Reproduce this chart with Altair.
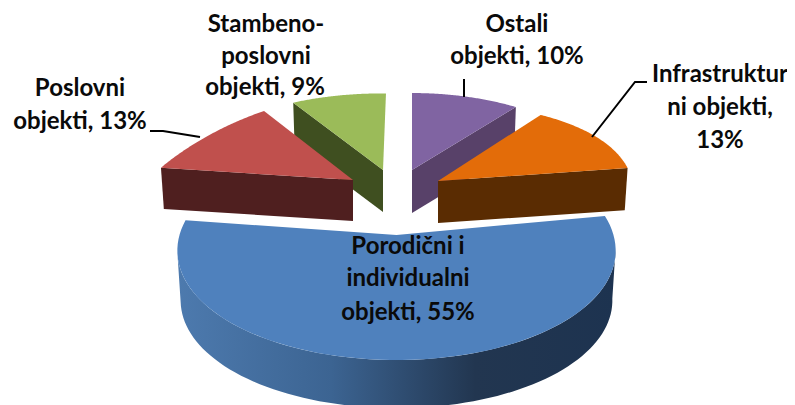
import math
import altair as alt

# --- chart values ---
categories = ["Ostali objekti", "Infrastrukturni objekti", "Porodični i individualni objekti",
              "Poslovni objekti", "Stambeno-poslovni objekti"]
shares = [10, 13, 55, 13, 9]
top_colors = ["#8064a2", "#e36c09", "#4f81bd", "#c0504d", "#9bbb59"]
wall_colors = ["#584169", "#5a2c02", None, "#4f1f1f", "#3f4f20"]

label_lines = ["Stambeno-", "poslovni", "objekti, 9%",
               "Poslovni", "objekti, 13%",
               "Ostali", "objekti, 10%",
               "Infrastruktur", "ni objekti,", "13%",
               "Porodični i", "individualni", "objekti, 55%"]
label_x = [266, 266, 265, 80, 80, 517, 517, 720, 720, 720, 408, 408, 408]
label_y = [25, 57, 88, 89, 122, 25, 57, 75, 108, 141, 247, 279, 313]

leaders = [
    [(150, 131), (163, 131), (200, 137)],
    [(464, 79), (464, 97)],
    [(647, 82), (635, 82), (592, 137)],
]

# --- perspective view of each exploded slice ---
# apex x, apex y, rx, ry, kx, ky, rotation, depth
views = {
    0: (412, 170, 191, 81.6, 0.10, 0.06, 0.0, 43),
    1: (438, 181, 194.5, 101, 0.124, 0.30, -0.5, 42),
    2: (396.5, 235, 217, 110, 0.14, 0.12, -3.0, 50),
    3: (353, 180, 205, 84, 0.384, 0.0, -2.4, 41),
    4: (383, 170, 187, 95, 0.10, 0.24, 1.0, 42),
}
SHRINK = 0.985

cum = [0]
for s in shares:
    cum.append(cum[-1] + s)
angles = [(cum[i] * 3.6, cum[i + 1] * 3.6) for i in range(len(shares))]


def rim(i, a, lower=False):
    ax, ay, rx, ry, kx, ky, rot, depth = views[i]
    t = math.radians(a + rot)
    f = SHRINK if lower else 1.0
    dy = depth if lower else 0
    return [ax + f * rx * math.sin(t) / (1 + kx * math.cos(t)),
            ay + dy - f * ry * math.cos(t) / (1 + ky * math.cos(t))]


def apex(i, lower=False):
    ax, ay, *_, depth = views[i]
    return [ax, ay + (depth if lower else 0)]


def feature(ring):
    ring = ring + [ring[0]]
    return {"type": "Feature", "properties": {}, "geometry": {"type": "Polygon", "coordinates": [ring]}}


def arc(i, a0, a1, lower=False, n=80):
    return [rim(i, a0 + (a1 - a0) * j / n, lower) for j in range(n + 1)]


PROJ = dict(type="identity", scale=1, translate=[-8, -8])


def shape(ring, fill):
    return alt.Chart(alt.Data(values=[feature(ring)])).mark_geoshape(
        fill=fill, strokeWidth=0, clip=True).project(**PROJ)


def top_face(i):
    a0, a1 = angles[i]
    return shape([apex(i)] + arc(i, a0, a1), top_colors[i])


def radial_wall(i, a, color):
    return shape([apex(i), rim(i, a), rim(i, a, True), apex(i, True)], color)


blue_gradient = alt.Gradient(
    gradient="linear", x1=0, x2=1, y1=0, y2=0,
    stops=[alt.GradientStop(offset=0, color="#4d7aae"),
           alt.GradientStop(offset=0.35, color="#3c6492"),
           alt.GradientStop(offset=0.68, color="#223650"),
           alt.GradientStop(offset=1, color="#1d3350")],
)

a0, a1 = 100, 262
blue_wall = shape(arc(2, a0, a1) + arc(2, a1, a0, True), blue_gradient)

layers = [
    radial_wall(4, angles[4][0], wall_colors[4]), top_face(4),
    radial_wall(0, angles[0][1], wall_colors[0]), top_face(0),
    radial_wall(3, angles[3][0], wall_colors[3]), top_face(3),
    radial_wall(1, angles[1][1], wall_colors[1]), top_face(1),
    blue_wall, top_face(2),
]

for k, pts in enumerate(leaders):
    rows = [{"lon": p[0], "lat": p[1], "o": j} for j, p in enumerate(pts)]
    layers.append(
        alt.Chart(alt.Data(values=rows)).mark_line(color="#000000", strokeWidth=2).encode(
            longitude="lon:Q", latitude="lat:Q", order="o:Q").project(**PROJ))

label_rows = [{"t": t, "lon": x, "lat": y} for t, x, y in zip(label_lines, label_x, label_y)]
layers.append(
    alt.Chart(alt.Data(values=label_rows)).mark_text(
        font="Lato", fontSize=24, fontWeight="bold", color="#0a0a0a",
        align="center", baseline="middle").encode(
        longitude="lon:Q", latitude="lat:Q", text="t:N").project(**PROJ))

chart = alt.layer(*layers).properties(
    width=779, height=397, padding=0,
    autosize=alt.AutoSizeParams(type="none"),
    background="#ffffff",
).configure_view(stroke=None)

chart.save("out.html", embed_options={"renderer": "svg", "actions": False})
